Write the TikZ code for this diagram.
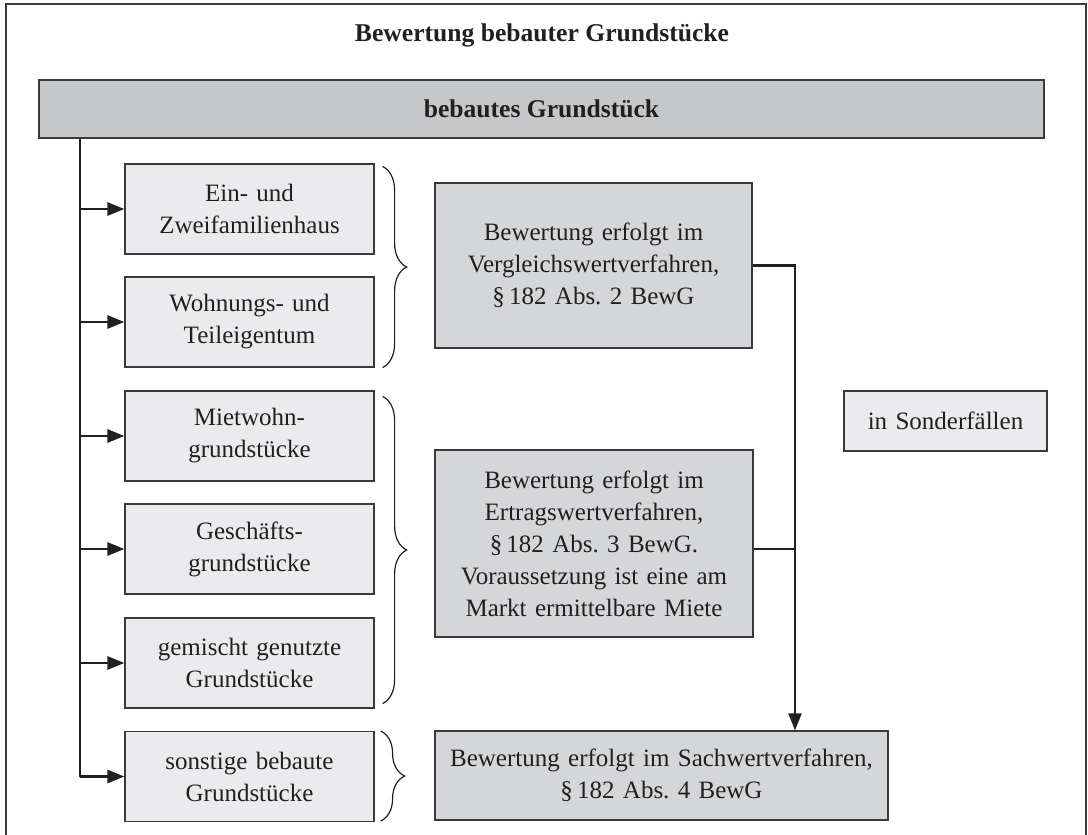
\documentclass[tikz,border=0pt]{standalone}
\usepackage{fontspec}
\setmainfont{Liberation Serif}
\usetikzlibrary{arrows.meta,decorations.pathreplacing}

\definecolor{ink}{HTML}{231F20}
\definecolor{rimgray}{HTML}{3A3A3C}
\definecolor{headfill}{HTML}{C6C7C9}
\definecolor{objfill}{HTML}{EBEBED}
\definecolor{verffill}{HTML}{D5D6D8}

\tikzset{
	boxtext/.style={font=\fontsize{12.5}{16}\selectfont},
	headbox/.style={draw=rimgray, line width=0.6pt, fill=headfill, inner sep=0pt,
		minimum width=502.5pt, minimum height=29pt, font=\bfseries\fontsize{12.8}{14}\selectfont},
	objbox/.style={boxtext, draw=rimgray, line width=0.6pt, fill=objfill, align=center,
		inner sep=0pt, text width=124.5pt, minimum height=45pt},
	verfbox/.style={boxtext, draw=rimgray, line width=0.6pt, fill=verffill, align=center,
		inner sep=0pt},
	trunkline/.style={ink, line width=1.4pt},
	arr/.style={ink, line width=1.4pt, -{Triangle[length=8.5pt,width=6.5pt]}},
	conn/.style={ink, line width=1.1pt},
	curly/.style={ink, line width=0.6pt, decorate, decoration={brace, amplitude=12pt}},
}

\begin{document}
\begin{tikzpicture}[x=0.5pt, y=-0.5pt, text=ink]
	\useasboundingbox (0,0) rectangle (1088,835);
	\draw[rimgray, line width=0.6pt] (6,840) -- (6,4) -- (1086,4) -- (1086,840);

	\node[font=\bfseries\fontsize{12.8}{14}\selectfont] (title) at (542,35) {Bewertung bebauter Grundstücke};
	\node[headbox] (grund) at (541.5,109) {bebautes Grundstück};

	% Objektarten
	\node[objbox] (einzwei) at (249.5,209) {Ein- und\\Zweifamilienhaus};
	\node[objbox] (wohnteil) at (249.5,322) {Wohnungs- und\\Teileigentum};
	\node[objbox] (mietwohn) at (249.5,436) {Mietwohn-\\grundstücke};
	\node[objbox] (geschaeft) at (249.5,549) {Geschäfts-\\grundstücke};
	\node[objbox] (gemischt) at (249.5,663) {gemischt genutzte\\Grundstücke};
	\node[objbox] (sonstige) at (249.5,776.5) {sonstige bebaute\\Grundstücke};

	% Verfahren
	\node[verfbox, text width=158.5pt, minimum height=82.5pt] (vergl) at (593.5,265.5)
		{Bewertung erfolgt im\\Vergleichswertverfahren,\\§\,182 Abs.~2 BewG};
	\node[verfbox, text width=159pt, minimum height=93.5pt] (ertrag) at (594,543.5)
		{Bewertung erfolgt im\\Ertragswertverfahren,\\§\,182 Abs.~3 BewG.\\Voraussetzung ist eine am\\Markt ermittelbare Miete};
	\node[verfbox, text width=226.5pt, minimum height=44.5pt] (sachwert) at (661.5,775.5)
		{Bewertung erfolgt im Sachwertverfahren,\\§\,182 Abs.~4 BewG};
	\node[objbox, text width=101.5pt, minimum height=30pt] (sonder) at (945.5,421) {in Sonderfällen};

	\coordinate (trunk) at (grund.south -| 80,0);
	\draw[trunkline] (trunk) -- (trunk |- sonstige.west);
	\foreach \obj in {einzwei,wohnteil,mietwohn,geschaeft,gemischt,sonstige}{
		\draw[arr] (trunk |- \obj.west) -- (\obj.west);
	}

	\draw[curly] ([xshift=4pt,yshift=-1.5pt]einzwei.north east) -- ([xshift=4pt]wohnteil.south east);
	\draw[curly] ([xshift=4pt,yshift=-3pt]mietwohn.north east) -- ([xshift=4pt,yshift=2.5pt]gemischt.south east);
	\draw[curly] ([xshift=3pt]sonstige.north east) -- ([xshift=3pt,yshift=0.5pt]sonstige.south east);

	\draw[conn, -{Triangle[length=8.5pt,width=6.5pt]}] (vergl.east) -| (sachwert.north -| 795,0);
	\draw[conn] ([yshift=-2.75pt]ertrag.east) -- ([yshift=-2.75pt]ertrag.east -| 795,0);
\end{tikzpicture}
\end{document}
